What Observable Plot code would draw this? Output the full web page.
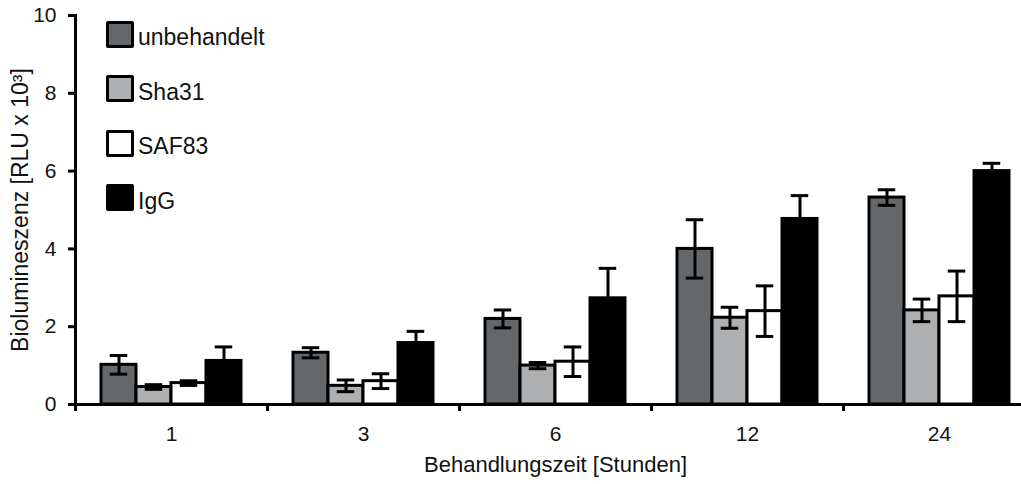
<!DOCTYPE html>
<html>
<head>
<meta charset="utf-8">
<script src="https://cdn.jsdelivr.net/npm/d3@7"></script>
<script src="https://cdn.jsdelivr.net/npm/@observablehq/plot@0.6"></script>
<style>
  html, body { margin: 0; padding: 0; background: #fff; }
  body { font-family: "Liberation Sans", Arial, sans-serif; }
  #wrap { position: relative; width: 1021px; height: 484px; overflow: hidden; }
  #wrap svg g[aria-label="y-axis tick"], #wrap svg g[aria-label="y-axis tick"] path,
  #wrap svg g[aria-label="frame"], #wrap svg g[aria-label="frame"] * { stroke-width: 3px; stroke: #000; }
  #legend { position: absolute; left: 106px; top: 20px; }
  .row { display: flex; align-items: center; height: 28px; margin-bottom: 26.5px; }
  .sw { width: 28px; height: 27px; box-sizing: border-box; border: 3px solid #000; border-radius: 2px; }
  .lab { font-size: 23px; margin-left: 4px; color: #111; line-height: 28px; position: relative; top: 3px; }
</style>
</head>
<body>
<div id="wrap"><div id="legend"></div></div>
<script>
const times = ["1", "3", "6", "12", "24"];
const series = ["unbehandelt", "Sha31", "SAF83", "IgG"];
const colors = ["#64686b", "#adafb0", "#ffffff", "#000000"];
const yTicks = [0, 2, 4, 6, 8, 10];

const unbehandelt = [1.02, 1.33, 2.2, 4.0, 5.32];
const sha31 = [0.45, 0.48, 1.0, 2.23, 2.42];
const saf83 = [0.55, 0.6, 1.1, 2.4, 2.78];
const igg = [1.12, 1.58, 2.73, 4.77, 6.0];

const errUnbehandelt = [0.24, 0.13, 0.23, 0.75, 0.2];
const errSha31 = [0.06, 0.15, 0.08, 0.27, 0.29];
const errSaf83 = [0.06, 0.19, 0.38, 0.65, 0.65];
const errIgg = [0.36, 0.3, 0.77, 0.6, 0.2];

const valueLists = [unbehandelt, sha31, saf83, igg];
const errLists = [errUnbehandelt, errSha31, errSaf83, errIgg];

const data = [];
times.forEach((t, i) => {
  series.forEach((s, j) => {
    data.push({time: t, series: s, value: valueLists[j][i], err: errLists[j][i]});
  });
});

const chart = Plot.plot({
  width: 1021,
  height: 484,
  marginTop: 15,
  marginBottom: 80,
  marginLeft: 75,
  marginRight: 0,
  style: {fontFamily: "'Liberation Sans', Arial, sans-serif", color: "#111", fontSize: "21px", overflow: "hidden"},
  fx: {domain: times, range: [75, 1035], padding: 0},
  x: {domain: series, paddingInner: 0, paddingOuter: 0.7, axis: null},
  y: {domain: [0, 10]},
  color: {domain: series, range: colors},
  marks: [
    Plot.barY(data, {fx: "time", x: "series", y: "value", fill: "series", stroke: "#000", strokeWidth: 3}),
    Plot.ruleX(data, {fx: "time", x: "series", y1: d => d.value - d.err, y2: d => d.value + d.err, stroke: "#000", strokeWidth: 3}),
    Plot.tickY(data, {fx: "time", x: "series", y: d => d.value + d.err, stroke: "#000", strokeWidth: 3, insetLeft: 8.75, insetRight: 8.75}),
    Plot.tickY(data, {fx: "time", x: "series", y: d => d.value - d.err, stroke: "#000", strokeWidth: 3, insetLeft: 8.75, insetRight: 8.75}),
    Plot.ruleY([0], {stroke: "#000", strokeWidth: 3}),
    Plot.frame({anchor: "left", facet: "super", stroke: "#000", strokeWidth: 3}),
    Plot.axisY({ticks: yTicks, tickSize: 7, tickPadding: 12, stroke: "#000", strokeWidth: 3, fontSize: 21, label: null}),
    Plot.text(["Biolumineszenz [RLU x 10³]"], {facet: "super", frameAnchor: "left", textAnchor: "middle", rotate: -90, dx: -55, fontSize: 23, fill: "#111"}),
    Plot.axisFx({anchor: "bottom", tickSize: 7, stroke: "#000", strokeWidth: 3, dx: -96, tickFormat: () => "", label: null}),
    Plot.axisFx({anchor: "bottom", tickSize: 0, tickPadding: 22, fontSize: 21, label: null}),
    Plot.text(["Behandlungszeit [Stunden]"], {facet: "super", frameAnchor: "bottom", dy: 67, fontSize: 22, fill: "#111"})
  ]
});
document.getElementById("wrap").prepend(chart);

const legend = document.getElementById("legend");
series.forEach((s, j) => {
  const row = document.createElement("div");
  row.className = "row";
  const sw = document.createElement("div");
  sw.className = "sw";
  sw.style.background = colors[j];
  const lab = document.createElement("span");
  lab.className = "lab";
  lab.textContent = s;
  row.append(sw, lab);
  legend.append(row);
});
</script>
</body>
</html>
